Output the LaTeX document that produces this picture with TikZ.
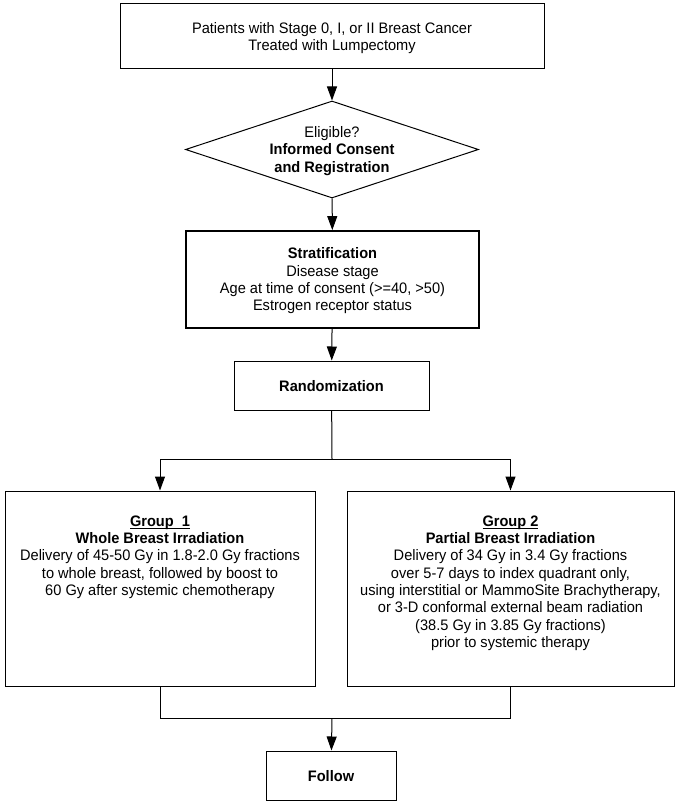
\documentclass[tikz,border=0pt]{standalone}
\usepackage{fontspec}
\setmainfont{Liberation Sans}[FakeStretch=0.96]
\usetikzlibrary{arrows.meta,shapes.geometric}
\newcommand\grpul[1]{\underline{\smash{#1}}\vphantom{#1}}
\begin{document}
\begin{tikzpicture}[x=1pt,y=-1pt,
  every node/.style={font=\fontsize{15.2}{17.3}\selectfont},
  box/.style={draw,line width=1pt,inner sep=0pt},
  txt/.style={align=center,inner sep=0pt},
  arr/.style={line width=1pt,-{Triangle[length=14pt,width=10pt]}},
  ln/.style={line width=1pt}]
\useasboundingbox (0,0) rectangle (678,803);
\node[box,minimum width=424pt,minimum height=65pt] (b1) at (332,35.5) {};
\node[txt] (b1t) at (332,38) {Patients with Stage 0, I, or II Breast Cancer\\Treated with Lumpectomy};
\node[diamond,draw,line width=1pt,minimum width=293pt,minimum height=97pt,inner sep=0pt] (elig) at (332,149.5) {};
\node[txt] (eligt) at (332,151) {Eligible?\\\textbf{Informed Consent}\\\textbf{and Registration}};
\node[box,line width=1.8pt,minimum width=293pt,minimum height=97pt] (strat) at (332.5,279.5) {};
\node[txt] (stratt) at (332.5,281)
  {\textbf{Stratification}\\Disease stage\\Age at time of consent (>=40, >50)\\Estrogen receptor status};
\node[box,minimum width=195pt,minimum height=49pt] (rand) at (331.5,385.5) {};
\node[txt] (randt) at (331.5,386.5) {\textbf{Randomization}};
\node[box,minimum width=310pt,minimum height=195pt] (g1) at (160,588.5) {};
\node[box,minimum width=327pt,minimum height=195pt] (g2) at (510.5,588.5) {};
\node[txt,anchor=north] (g1t) at ([yshift=-25pt]g1.north)
  {\textbf{\grpul{Group~~1}}\\\textbf{Whole Breast Irradiation}\\Delivery of 45-50 Gy in 1.8-2.0 Gy fractions\\to whole breast, followed by boost to\\60 Gy after systemic chemotherapy};
\node[txt,anchor=north] (g2t) at ([yshift=-25pt]g2.north)
  {\textbf{\grpul{Group 2}}\\\textbf{Partial Breast Irradiation}\\Delivery of 34 Gy in 3.4 Gy fractions\\over 5-7 days to index quadrant only,\\using interstitial or MammoSite Brachytherapy,\\or 3-D conformal external beam radiation\\(38.5 Gy in 3.85 Gy fractions)\\prior to systemic therapy};
\node[box,minimum width=130pt,minimum height=49pt] (fol) at (331,775.5) {};
\node[txt] (folt) at (331,776.5) {\textbf{Follow}};
\coordinate (sp) at (332,459);
\coordinate (mg) at (332,718);
\draw[arr] (b1) -- (elig);
\draw[arr] (elig) -- (strat);
\draw[arr] (strat) -- (rand);
\draw[ln] (rand) -- (sp);
\draw[arr] (sp) -| (g1.north);
\draw[arr] (sp) -| (g2.north);
\draw[ln] (g1.south) |- (mg);
\draw[ln] (g2.south) |- (mg);
\draw[arr] (mg) -- (fol);
\end{tikzpicture}
\end{document}
